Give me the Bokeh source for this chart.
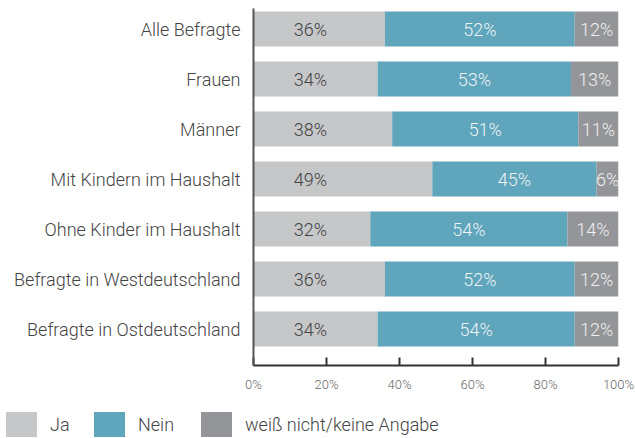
from bokeh.plotting import figure
from bokeh.layouts import column
from bokeh.models import (ColumnDataSource, Range1d, FixedTicker, PrintfTickFormatter,
                          LabelSet, Div)
from bokeh.core.properties import value
from bokeh.embed import file_html
from bokeh.resources import INLINE

categories = ["Alle Befragte", "Frauen", "Männer", "Mit Kindern im Haushalt",
              "Ohne Kinder im Haushalt", "Befragte in Westdeutschland",
              "Befragte in Ostdeutschland"]
ja = [36, 34, 38, 49, 32, 36, 34]
nein = [52, 53, 51, 45, 54, 52, 54]
weiss = [12, 13, 11, 6, 14, 12, 12]
x_ticks = [0, 20, 40, 60, 80, 100]
series_names = ["Ja", "Nein", "weiß nicht/keine Angabe"]

C_JA = "#c6c7c9"
C_NEIN = "#5fa5bb"
C_WEISS = "#939598"
series_colors = [C_JA, C_NEIN, C_WEISS]
FONT = "Roboto Light"

n = len(categories)
ypos = list(range(n))
ja_end = ja
nein_end = [a + b for a, b in zip(ja, nein)]
weiss_end = [a + b + c for a, b, c in zip(ja, nein, weiss)]

src = ColumnDataSource(dict(
    y=ypos,
    l0=[0] * n, r0=ja_end,
    l1=ja_end, r1=nein_end,
    l2=nein_end, r2=weiss_end,
    ja_lab=[f"{v}%" for v in ja],
    nein_lab=[f"{v}%" for v in nein],
    weiss_lab=[f"{v}%" for v in weiss],
    ja_x=[15.6] * n,
    nein_x=[a + b / 2 for a, b in zip(ja, nein)],
    weiss_x=[a + b + c / 2 for a, b, c in zip(ja, nein, weiss)],
))

p = figure(frame_width=365, frame_height=357,
           x_range=Range1d(0, 100), y_range=Range1d(n - 1 + 0.73, -0.41),
           output_backend="svg", toolbar_location=None,
           min_border_left=253, min_border_right=17,
           min_border_top=8, min_border_bottom=46)
p.outline_line_color = None
p.grid.visible = False
p.background_fill_color = "white"
p.border_fill_color = "white"

h = 0.7
p.hbar(y="y", left="l0", right="r0", height=h, source=src,
       fill_color=C_JA, line_color=None)
p.hbar(y="y", left="l1", right="r1", height=h, source=src,
       fill_color=C_NEIN, line_color=None)
p.hbar(y="y", left="l2", right="r2", height=h, source=src,
       fill_color=C_WEISS, line_color=None)

common = dict(y="y", source=src, text_align="center", text_baseline="middle",
              text_font=value(FONT), text_font_size="18px")
p.add_layout(LabelSet(x="ja_x", text="ja_lab", text_color="#444444", **common))
p.add_layout(LabelSet(x="nein_x", text="nein_lab", text_color="#eef4f6", **common))
p.add_layout(LabelSet(x="weiss_x", text="weiss_lab", text_color="#f0f0f0", **common))

# x axis
xa = p.xaxis[0]
xa.ticker = FixedTicker(ticks=x_ticks)
xa.formatter = PrintfTickFormatter(format="%d%%")
xa.major_tick_in = 8
xa.major_tick_out = 0
xa.minor_tick_line_color = None
xa.axis_line_color = "#333333"
xa.axis_line_width = 2
xa.major_tick_line_color = "#333333"
xa.major_tick_line_width = 2
xa.major_label_text_font = FONT
xa.major_label_text_font_size = "13px"
xa.major_label_text_color = "#666666"
xa.major_label_standoff = 11

# y axis
ya = p.yaxis[0]
ya.ticker = FixedTicker(ticks=ypos)
ya.major_label_overrides = {i: c for i, c in zip(ypos, categories)}
ya.major_tick_in = 0
ya.major_tick_out = 0
ya.minor_tick_line_color = None
ya.axis_line_color = "#555555"
ya.axis_line_width = 2
ya.major_label_text_font = FONT
ya.major_label_text_font_size = "18px"
ya.major_label_text_color = "#444444"
ya.major_label_standoff = 13

# legend row (HTML), one item per series
item_widths = [88, 107, 300]
items_html = ""
for name, col, w in zip(series_names, series_colors, item_widths):
    items_html += (
        f'<div style="display:flex;align-items:center;width:{w}px;flex:none">'
        f'<div style="width:31px;height:25px;background:{col};flex:none"></div>'
        f'<div style="margin-left:13px;white-space:nowrap">{name}</div></div>'
    )
legend_div = Div(
    text=(f'<div style="display:flex;align-items:center;height:27px;padding-left:6px;'
          f'font-family:\'{FONT}\',Roboto,sans-serif;font-size:18px;color:#444444">'
          f'{items_html}</div>'),
    width=635, height=27, margin=0)

layout = column(p, legend_div, spacing=0)
open("out.html", "w").write(file_html(layout, INLINE))
